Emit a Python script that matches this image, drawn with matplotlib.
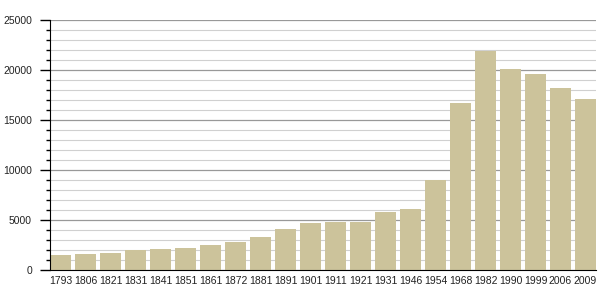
import matplotlib.pyplot as plt
from matplotlib.ticker import MultipleLocator

# Population data
years = ["1793", "1806", "1821", "1831", "1841", "1851", "1861", "1872", "1881", "1891",
         "1901", "1911", "1921", "1931", "1946", "1954", "1968", "1982", "1990", "1999",
         "2006", "2009"]
population = [1500, 1600, 1700, 2000, 2100, 2230, 2500, 2800, 3300, 4100,
              4730, 4830, 4830, 5830, 6100, 9000, 16730, 21930, 20100, 19600,
              18200, 17100]

plt.rcParams['font.family'] = ['Liberation Sans', 'DejaVu Sans']

fig = plt.figure(figsize=(6.05, 3.0), dpi=100)
ax = fig.add_axes([50 / 605, 30 / 300, 546 / 605, 249.7 / 300])

x = range(len(years))
ax.bar(x, population, width=0.84, color="#ccc39b", zorder=2)

ax.set_xlim(-0.42, len(years) - 1 + 0.42)
ax.set_ylim(0, 25000)

# grid: minor every 1000, major every 5000
ax.yaxis.set_major_locator(MultipleLocator(5000))
ax.yaxis.set_minor_locator(MultipleLocator(1000))
ax.grid(axis="y", which="minor", color="#d0d0d0", linewidth=0.8, zorder=0)
ax.grid(axis="y", which="major", color="#999999", linewidth=0.9, zorder=1)

ax.set_xticks(list(x))
ax.set_xticklabels(years)

for side in ["top", "right"]:
    ax.spines[side].set_visible(False)
ax.spines["left"].set_color("black")
ax.spines["bottom"].set_color("black")

ax.tick_params(axis="x", length=0, pad=4, labelsize=7.5, labelcolor="#222222")
ax.tick_params(axis="y", which="major", length=7, width=1, pad=6, labelsize=7.5,
               labelcolor="#222222")
ax.tick_params(axis="y", which="minor", length=3, width=1)

fig.savefig("out.png", dpi=100)
